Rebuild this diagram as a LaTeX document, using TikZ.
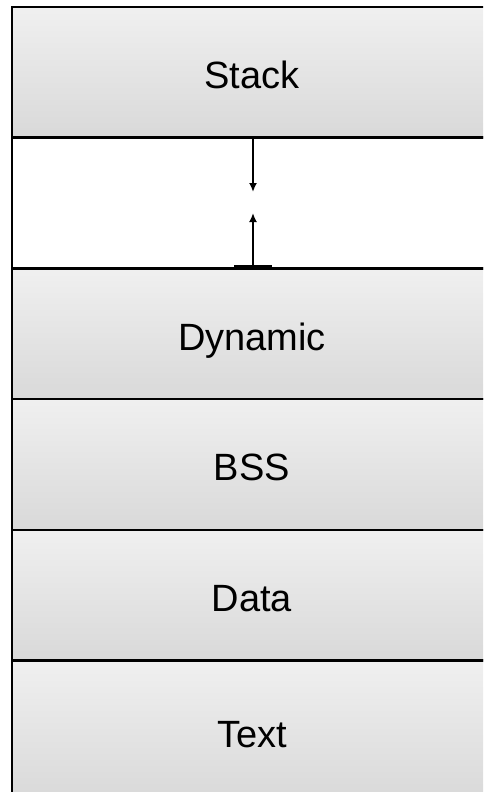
\documentclass[tikz,border=0pt]{standalone}
\usepackage{fontspec}
\setmainfont{Liberation Sans}
\usetikzlibrary{arrows.meta}

\begin{document}
\begin{tikzpicture}[x=1pt,y=-1pt,
  box/.style={draw,line width=2.6pt,minimum width=480pt,minimum height=130.7pt,
              inner sep=0pt,text height=33pt,text depth=0pt,
              font=\fontsize{38}{44}\selectfont},
  segment/.style={box,top color=gray!12,bottom color=gray!30},
  growarrow/.style={line width=2.2pt,-{Latex[length=9pt,width=8pt]}}]

\useasboundingbox (0,0) rectangle (483,792);
\clip (0,0) rectangle (483,792);

% memory layout, top to bottom; the right side runs off the page
\node[segment]         (stack)   at (252,72.35)  {Stack};
\node[box,fill=white]  (free)    at (252,203.05) {};
\node[segment]         (dynamic) at (252,333.75) {Dynamic};
\node[segment]         (bss)     at (252,464.45) {BSS};
\node[segment]         (data)    at (252,595.15) {Data};
\node[segment,minimum height=140pt] (text) at (252,730.5) {Text};

\coordinate (downend) at (253,192);
\coordinate (upend)   at (253,213);

\draw[growarrow] (stack.south -| downend) -- (downend);
\draw[growarrow] (dynamic.north -| upend) -- (upend);
\draw[line width=3.5pt] ([xshift=-19pt]dynamic.north -| upend) -- ([xshift=19pt]dynamic.north -| upend);
\end{tikzpicture}
\end{document}
